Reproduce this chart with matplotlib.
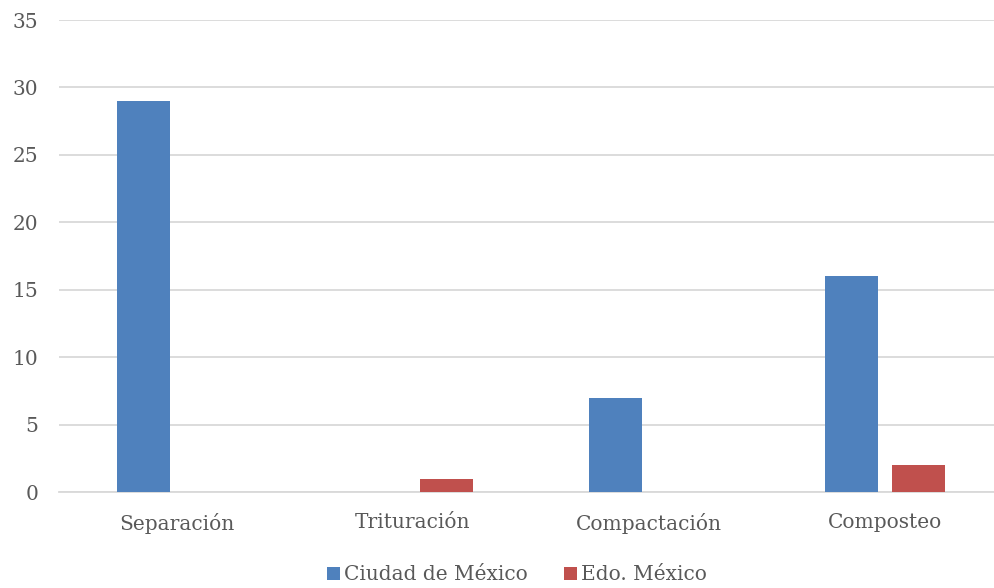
import matplotlib
matplotlib.use("Agg")
import matplotlib.pyplot as plt
import numpy as np

categories = ["Separación", "Trituración", "Compactación", "Composteo"]
series_names = ["Ciudad de México", "Edo. México"]
cdmx = [29, 0, 7, 16]
edomex = [0, 1, 0, 2]
colors = ["#4F81BD", "#C0504D"]
yticks = [0, 5, 10, 15, 20, 25, 30, 35]

plt.rcParams['font.family'] = ['DejaVu Serif']
text_color = "#595959"

fig = plt.figure(figsize=(9.95, 5.88), dpi=100)
ax = fig.add_axes([59/995, 1 - 492/588, 944/995, (492 - 20)/588])

x = np.arange(len(categories))
w = 0.2246
off = 0.142
ax.bar(x - off, cdmx, width=w, color=colors[0], label=series_names[0], zorder=3)
ax.bar(x + off, edomex, width=w, color=colors[1], label=series_names[1], zorder=3)

ax.set_xlim(-0.5, len(categories) - 0.5)
ax.set_ylim(0, 35)
ax.set_yticks(yticks)
ax.set_yticklabels([str(v) for v in yticks])
ax.set_xticks(x)
ax.set_xticklabels(categories)
ax.grid(axis='y', color="#D9D9D9", linewidth=1.3, zorder=0)
for s in ["top", "right", "left"]:
    ax.spines[s].set_visible(False)
ax.spines["bottom"].set_color("#D9D9D9")
ax.spines["bottom"].set_linewidth(1.3)
ax.tick_params(axis='both', length=0, labelsize=14.5, colors=text_color)
ax.tick_params(axis='y', pad=15)
ax.tick_params(axis='x', pad=15)

leg = fig.legend(loc='center', bbox_to_anchor=(517/995, 1 - 575/588), ncol=2,
                 frameon=False, fontsize=14.5, handlelength=0.65, handleheight=0.65,
                 handletextpad=0.2, columnspacing=1.8)
for t in leg.get_texts():
    t.set_color(text_color)

fig.savefig("out.png", dpi=100)
